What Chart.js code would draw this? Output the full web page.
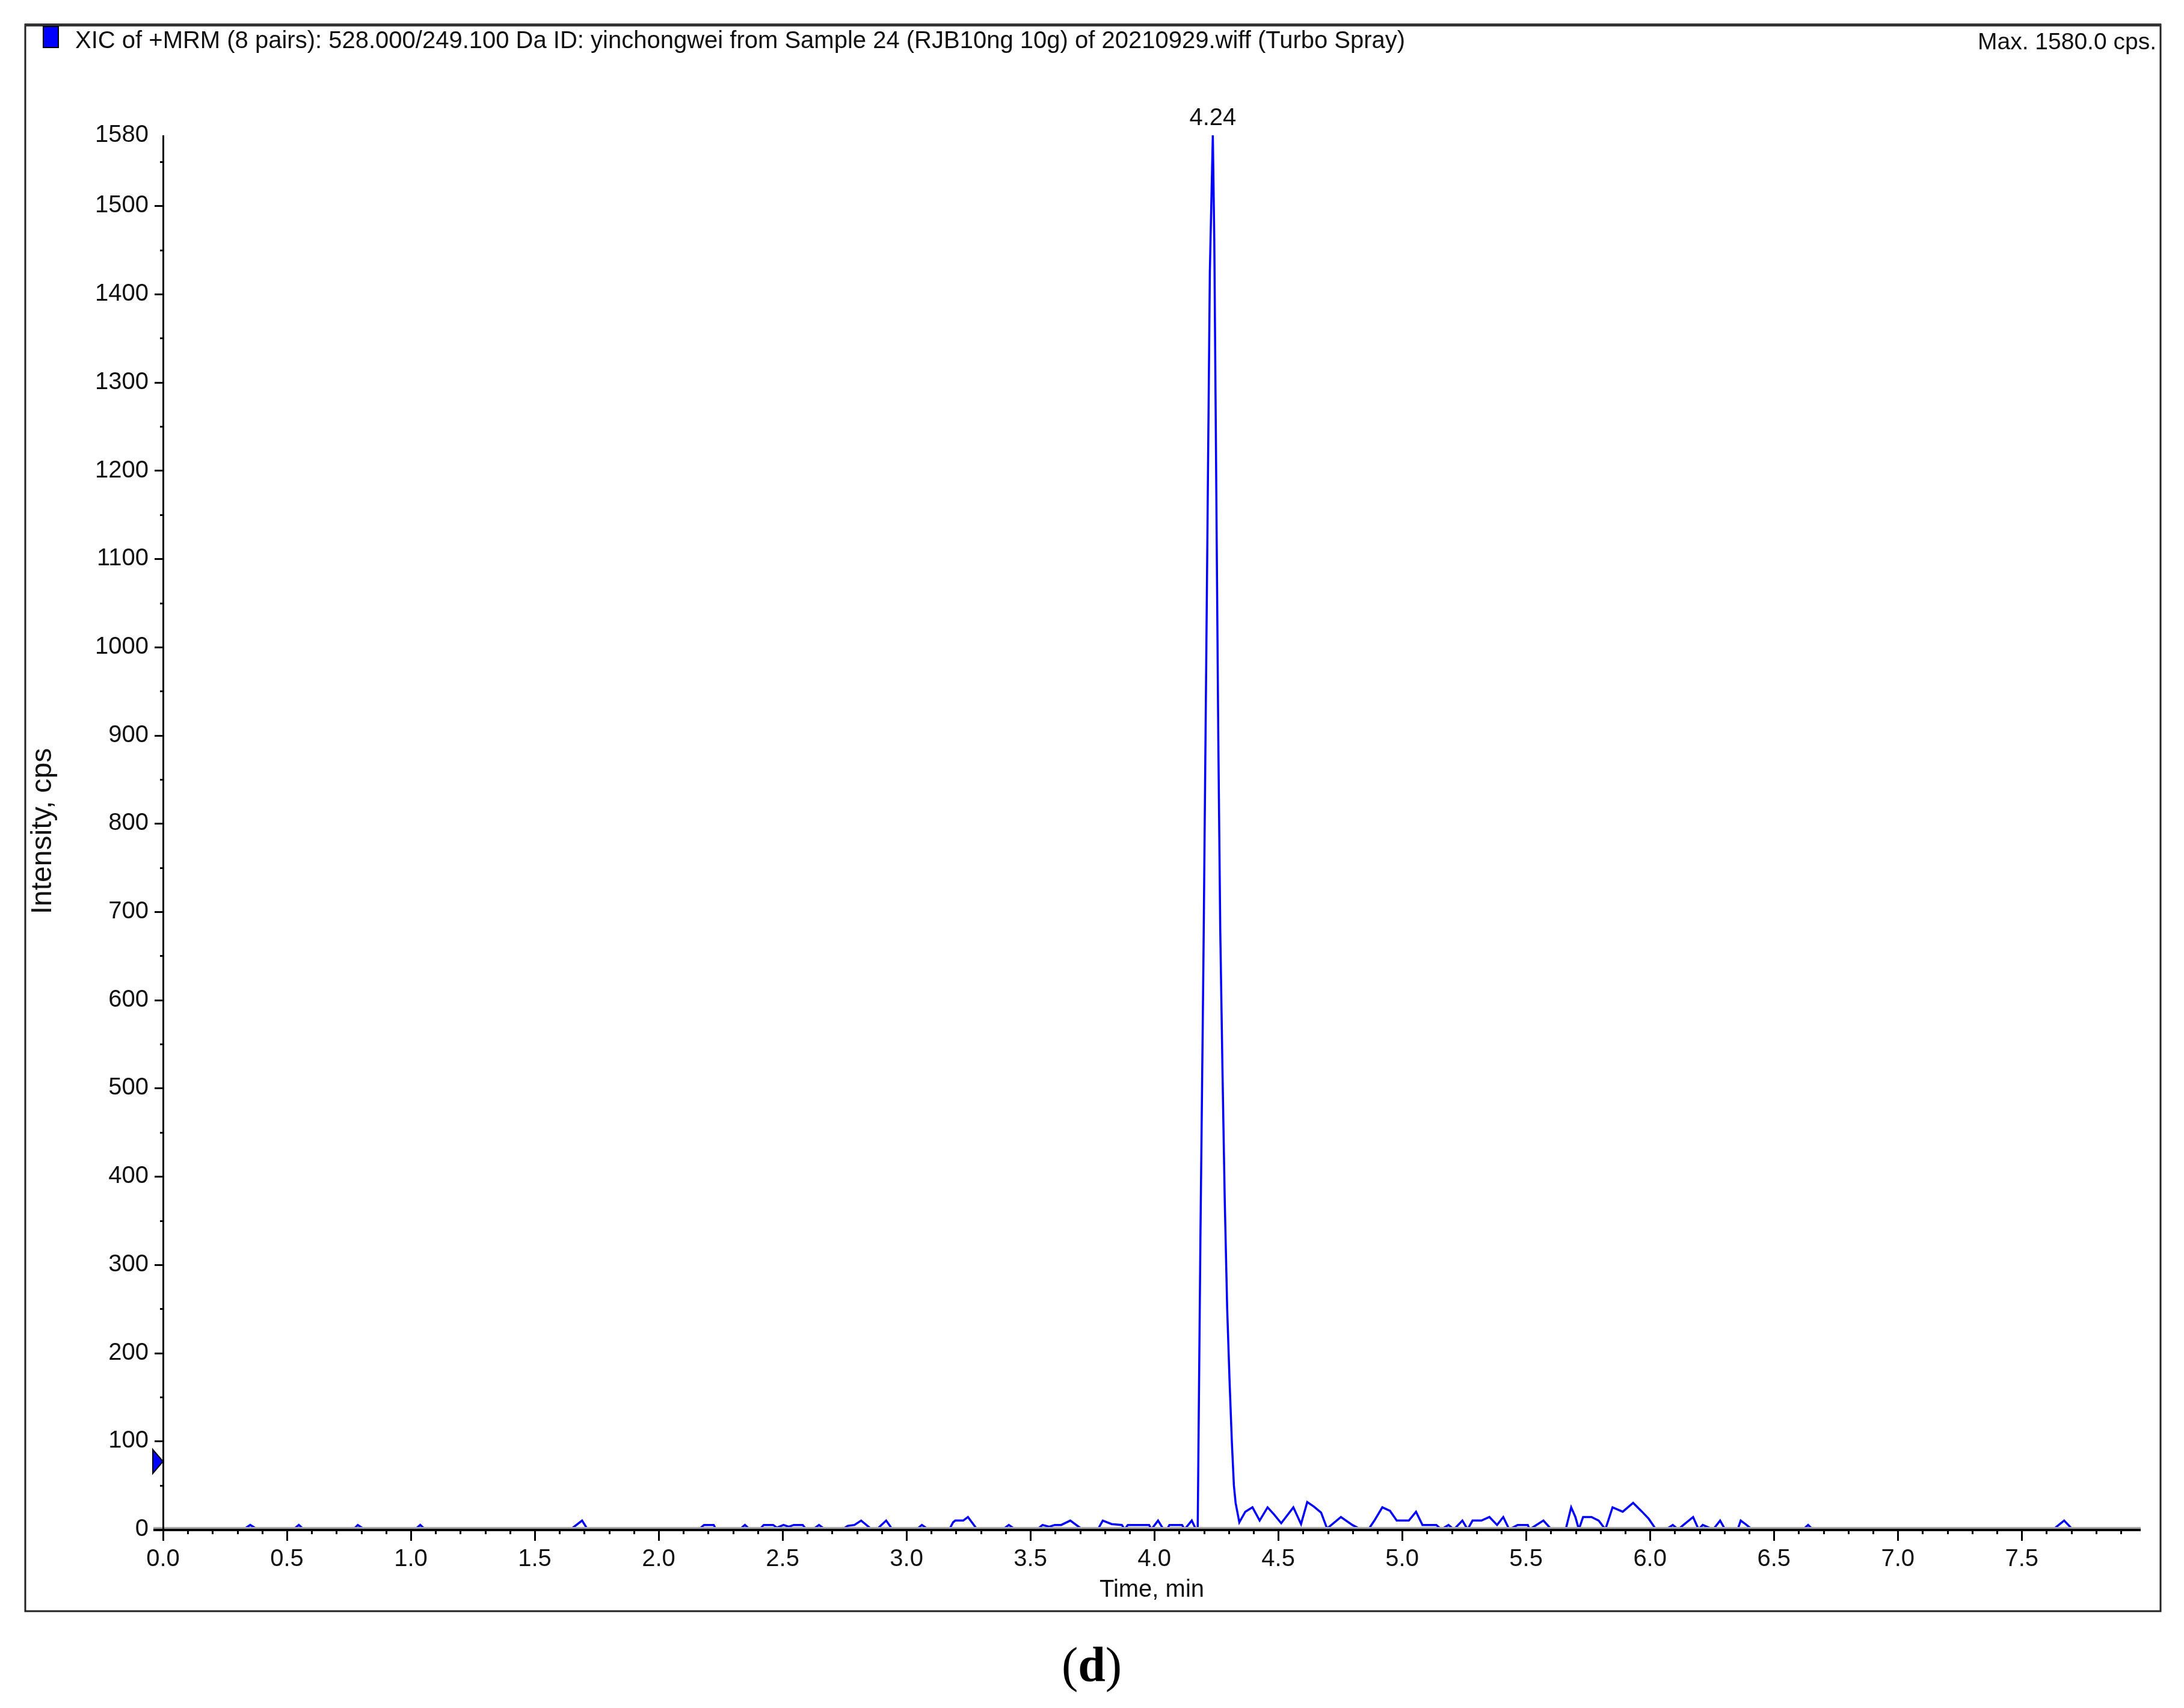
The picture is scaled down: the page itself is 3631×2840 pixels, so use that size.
<!DOCTYPE html>
<html>
<head>
<meta charset="utf-8">
<title>XIC of +MRM 528.000/249.100 Da</title>
<script src="https://cdn.jsdelivr.net/npm/chart.js@4.4.1/dist/chart.umd.min.js"></script>
<style>
  html, body { margin: 0; padding: 0; background: #fff; }
  #chart { display: block; }
</style>
</head>
<body>
<canvas id="chart" width="3631" height="2840"></canvas>
<script>
// Trace: retention time (min) and intensity (cps)
const timeMin = [
  0.000, 0.325, 0.352, 0.381, 0.526, 0.548, 0.568, 0.769, 0.786, 0.813,
  1.017, 1.038, 1.058, 1.645, 1.691, 1.713,
  2.162, 2.183, 2.222, 2.232, 2.327, 2.348, 2.368,
  2.407, 2.424, 2.462, 2.477, 2.504, 2.525, 2.545, 2.581, 2.596,
  2.623, 2.647, 2.671, 2.741, 2.763, 2.790, 2.817, 2.860, 2.880, 2.918, 2.943,
  3.040, 3.062, 3.088, 3.173, 3.188, 3.197, 3.229, 3.248, 3.285,
  3.389, 3.413, 3.438, 3.527, 3.549, 3.576, 3.598, 3.624, 3.661, 3.709,
  3.772, 3.792, 3.828, 3.869, 3.880, 3.893, 3.979, 3.988,
  4.015, 4.037, 4.051, 4.061, 4.112, 4.122, 4.151, 4.168,
  4.175, 4.186, 4.198, 4.210, 4.224, 4.236,
  4.242, 4.250, 4.258, 4.266, 4.275, 4.284, 4.294, 4.304, 4.313, 4.321, 4.328, 4.343,
  4.367, 4.396, 4.425, 4.457, 4.483, 4.512, 4.561, 4.592, 4.617, 4.643, 4.673, 4.697,
  4.753, 4.799, 4.833, 4.864, 4.888, 4.920, 4.951, 4.978, 5.027, 5.056, 5.082,
  5.138, 5.158, 5.187, 5.209, 5.243, 5.264, 5.284, 5.320, 5.352, 5.383, 5.408, 5.432,
  5.466, 5.507, 5.514, 5.570, 5.602, 5.660, 5.682, 5.699, 5.713, 5.730, 5.764, 5.793, 5.820,
  5.849, 5.890, 5.932, 5.968, 5.995, 6.024, 6.065, 6.092, 6.114, 6.135, 6.174, 6.196,
  6.213, 6.238, 6.255, 6.283, 6.303, 6.354, 6.366, 6.385, 6.412,
  6.618, 6.638, 6.657, 7.627, 7.671, 7.705, 7.980
];
const intensityCps = [
  0, 0, 5, 0, 0, 5, 0, 0, 5, 0,
  0, 5, 0, 0, 10, 0,
  0, 5, 5, 0, 0, 5, 0,
  0, 5, 5, 2, 5, 3, 5, 5, 0,
  0, 5, 0, 0, 4, 5, 10, 0, 0, 10, 0,
  0, 5, 0, 0, 8, 10, 10, 14, 0,
  0, 5, 0, 0, 5, 3, 5, 5, 10, 0,
  0, 10, 6, 5, 0, 5, 5, 0,
  10, 0, 0, 5, 5, 0, 10, 0,
  0, 330, 640, 1000, 1425, 1580,
  1460, 1180, 900, 680, 520, 375, 250, 165, 98, 50, 30, 8,
  20, 25, 10, 25, 17, 7, 25, 6, 31, 26, 19, 1,
  14, 5, 0, 0, 10, 25, 21, 10, 10, 20, 5,
  5, 0, 5, 0, 10, 0, 10, 10, 14, 5, 14, 0,
  5, 5, 0, 10, 0, 0, 25, 14, 0, 14, 14, 10, 0,
  25, 20, 30, 20, 12, 0, 0, 5, 0, 5, 14, 0,
  5, 2, 0, 10, 0, 0, 10, 6, 0,
  0, 5, 0, 0, 10, 0, 0
];

const xTickLabels = [0.0, 0.5, 1.0, 1.5, 2.0, 2.5, 3.0, 3.5, 4.0, 4.5, 5.0, 5.5, 6.0, 6.5, 7.0, 7.5];
const yTickLabels = [0, 100, 200, 300, 400, 500, 600, 700, 800, 900, 1000, 1100, 1200, 1300, 1400, 1500, 1580];
const thresholdCps = 77;

const titleText = 'XIC of +MRM (8 pairs): 528.000/249.100 Da ID: yinchongwei from Sample 24 (RJB10ng 10g) of 20210929.wiff (Turbo Spray)';
const maxText = 'Max. 1580.0 cps.';
const peakText = '4.24';

const SANS = '"Liberation Sans", Arial, sans-serif';
const SERIF = '"Liberation Serif", "Times New Roman", serif';
const FS = 40;

// axes, minor ticks, frame and the free texts around the plot
const decor = {
  id: 'decor',
  beforeDraw(chart) {
    const ctx = chart.ctx;
    ctx.save();
    ctx.fillStyle = '#fff';
    ctx.fillRect(0, 0, chart.width, chart.height);
    ctx.restore();
  },
  afterDatasetsDraw(chart) {
    const { ctx, chartArea: a } = chart;
    const xs = chart.scales.x, ys = chart.scales.y;
    ctx.save();

    // x axis: grey shadow + black line
    ctx.fillStyle = '#a8a8a8';
    ctx.fillRect(a.left - 16, a.bottom - 4, a.right - a.left + 16, 3);
    ctx.fillStyle = '#000';
    ctx.fillRect(a.left - 16, a.bottom - 1, a.right - a.left + 16, 4);
    // y axis
    ctx.fillRect(a.left - 1, a.top, 3, a.bottom - a.top + 2);

    // x ticks every 0.1, long every 0.5
    for (let i = 0; i <= 79; i++) {
      const px = Math.round(xs.getPixelForValue(i / 10));
      const len = i % 5 === 0 ? 17 : 6;
      ctx.fillRect(px - 1, a.bottom + 2, 3, len);
    }
    // y ticks every 50, long every 100
    for (let v = 0; v <= 1550; v += 50) {
      const py = Math.round(ys.getPixelForValue(v));
      const len = v % 100 === 0 ? 14 : 5;
      ctx.fillRect(a.left - len, py - 1, len, 3);
    }

    // threshold marker
    const ty = ys.getPixelForValue(thresholdCps);
    ctx.beginPath();
    ctx.moveTo(a.left - 17, ty - 20);
    ctx.lineTo(a.left, ty);
    ctx.lineTo(a.left - 17, ty + 20);
    ctx.closePath();
    ctx.fillStyle = '#0000ff';
    ctx.fill();
    ctx.lineWidth = 2;
    ctx.strokeStyle = '#000';
    ctx.stroke();

    // peak label above the apex
    let iMax = 0;
    intensityCps.forEach((v, i) => { if (v > intensityCps[iMax]) iMax = i; });
    const pxPeak = xs.getPixelForValue(timeMin[iMax]);
    const pyPeak = ys.getPixelForValue(intensityCps[iMax]);
    ctx.fillStyle = '#111';
    ctx.font = `${FS}px ${SANS}`;
    ctx.textAlign = 'center';
    ctx.textBaseline = 'middle';
    ctx.fillText(peakText, pxPeak, pyPeak - 28);

    // axis titles
    ctx.fillText('Time, min', (a.left + a.right) / 2, 2644);
    ctx.save();
    ctx.translate(72, 1382);
    ctx.rotate(-Math.PI / 2);
    ctx.font = `48px ${SANS}`;
    ctx.fillText('Intensity, cps', 0, 0);
    ctx.restore();

    ctx.restore();
  },
  afterDraw(chart) {
    const ctx = chart.ctx;
    ctx.save();
    // outer frame
    ctx.strokeStyle = '#222';
    ctx.lineWidth = 3;
    ctx.strokeRect(42, 41, 3550, 2638);
    ctx.fillStyle = '#333';
    ctx.fillRect(41, 39, 3552, 5);

    // legend swatch + header texts
    ctx.fillStyle = '#0000ff';
    ctx.fillRect(72, 44, 25, 35);
    ctx.strokeStyle = '#000';
    ctx.lineWidth = 2;
    ctx.strokeRect(72, 44, 25, 35);

    ctx.fillStyle = '#111';
    ctx.font = `${FS}px ${SANS}`;
    ctx.textBaseline = 'middle';
    ctx.textAlign = 'left';
    ctx.fillText(titleText, 125, 69);
    ctx.textAlign = 'right';
    ctx.font = `39px ${SANS}`;
    ctx.fillText(maxText, 3585, 71);

    // panel letter "(d)"
    const FD = 82;
    ctx.font = `${FD}px ${SERIF}`;
    const wOpen = ctx.measureText('(').width;
    const wClose = ctx.measureText(')').width;
    ctx.font = `bold ${FD}px ${SERIF}`;
    const wD = ctx.measureText('d').width;
    const x = 1815 - (wOpen + wD + wClose) / 2;
    ctx.textAlign = 'left';
    ctx.fillStyle = '#000';
    ctx.font = `${FD}px ${SERIF}`;
    ctx.fillText('(', x, 2774);
    ctx.font = `bold ${FD}px ${SERIF}`;
    ctx.fillText('d', x + wOpen, 2774);
    ctx.font = `${FD}px ${SERIF}`;
    ctx.fillText(')', x + wOpen + wD, 2774);
    ctx.restore();
  }
};

const points = timeMin.map((t, i) => ({ x: t, y: intensityCps[i] }));

new Chart(document.getElementById('chart').getContext('2d'), {
  type: 'scatter',
  data: {
    datasets: [{
      label: 'XIC 528.000/249.100',
      data: points,
      showLine: true,
      borderColor: '#0000ff',
      borderWidth: 3.5,
      pointRadius: 0,
      tension: 0
    }]
  },
  options: {
    responsive: false,
    animation: false,
    devicePixelRatio: 1,
    layout: { padding: { top: 225, right: 72, left: 0, bottom: 0 } },
    plugins: { legend: { display: false }, tooltip: { enabled: false } },
    scales: {
      x: {
        type: 'linear', min: 0, max: 7.98,
        grid: { display: false, drawTicks: false },
        border: { display: false },
        afterBuildTicks: s => { s.ticks = xTickLabels.map(v => ({ value: v })); },
        afterFit: s => { s.height = 297; },
        ticks: {
          padding: 26, color: '#111', maxRotation: 0, autoSkip: false,
          font: { family: SANS, size: FS },
          callback: v => Number(v).toFixed(1)
        }
      },
      y: {
        type: 'linear', min: 0, max: 1580,
        grid: { display: false, drawTicks: false },
        border: { display: false },
        afterBuildTicks: s => { s.ticks = yTickLabels.map(v => ({ value: v })); },
        afterFit: s => { s.width = 271; },
        ticks: {
          padding: 24, color: '#111', autoSkip: false,
          font: { family: SANS, size: FS },
          callback: v => String(v)
        }
      }
    }
  },
  plugins: [decor]
});
</script>
</body>
</html>
